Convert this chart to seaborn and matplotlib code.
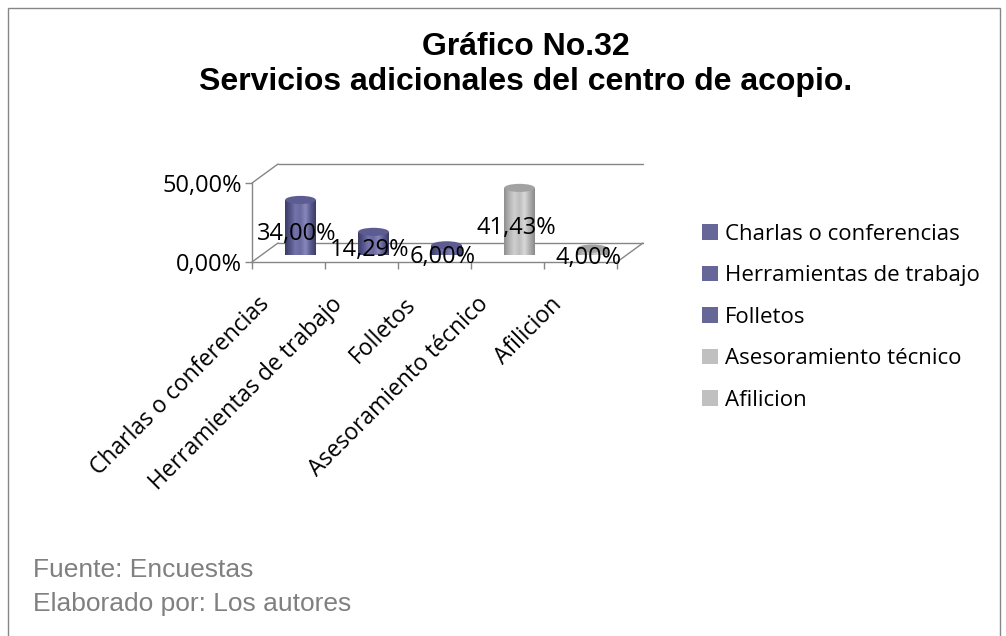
import numpy as np
import pandas as pd
import matplotlib
matplotlib.use("Agg")
import matplotlib.pyplot as plt
import seaborn as sns
from matplotlib.patches import Ellipse, Patch, Rectangle
from matplotlib.lines import Line2D
from matplotlib.colors import LinearSegmentedColormap
import matplotlib.transforms as mtransforms

# Data
categories = ["Charlas o conferencias", "Herramientas de trabajo", "Folletos",
              "Asesoramiento técnico", "Afilicion"]
values = [34.00, 14.29, 6.00, 41.43, 4.00]
value_labels = ["34,00%", "14,29%", "6,00%", "41,43%", "4,00%"]
series_colors = ["#666699", "#666699", "#666699", "#c0c0c0", "#c0c0c0"]
y_ticks = [0, 50]
y_ticklabels = ["0,00%", "50,00%"]

sns.set_theme(style="white")
plt.rcParams["font.family"] = ["Open Sans", "DejaVu Sans"]
plt.rcParams["text.color"] = "black"
plt.rcParams["xtick.labelcolor"] = "black"
plt.rcParams["ytick.labelcolor"] = "black"

W, H = 1006, 636
fig = plt.figure(figsize=(W / 100, H / 100), dpi=100)


def px(x0, y0, x1, y1):
    return [x0 / W, 1 - y1 / H, (x1 - x0) / W, (y1 - y0) / H]


grid_col = "#868686"

# Outer chart border
fig.add_artist(Rectangle((8 / W, -0.01), (1000 - 8) / W, 1 - 8 / H + 0.01,
                         transform=fig.transFigure, fill=False,
                         edgecolor=grid_col, linewidth=1.0))

# Titles
fig.text(526 / W, 1 - 55 / H, "Gráfico No.32", ha="center", va="baseline",
         fontsize=23, fontweight="bold", family="Liberation Sans",
         color="black")
fig.text(526 / W, 1 - 90 / H, "Servicios adicionales del centro de acopio.",
         ha="center", va="baseline", fontsize=23, fontweight="bold",
         family="Liberation Sans", color="black")

# Footer
fig.text(33 / W, 1 - 577 / H, "Fuente: Encuestas", ha="left", va="baseline",
         fontsize=19, color="#808080", family="Liberation Sans")
fig.text(33 / W, 1 - 611 / H, "Elaborado por: Los autores", ha="left",
         va="baseline", fontsize=19, color="#808080", family="Liberation Sans")

# Front plane axes (axis, ticks and category labels)
ax = fig.add_axes(px(252, 183, 617, 262))
ax.set_xlim(-0.5, len(categories) - 0.5)
ax.set_ylim(0, 50)
ax.patch.set_alpha(0)
for s in ["top", "right"]:
    ax.spines[s].set_visible(False)
for s in ["left", "bottom"]:
    ax.spines[s].set_color(grid_col)
    ax.spines[s].set_linewidth(1.0)
ax.set_yticks(y_ticks)
ax.set_yticklabels(y_ticklabels, fontsize=17)
ax.tick_params(axis="y", length=5, color=grid_col, width=1, pad=2, left=True)
ax.set_xticks(range(len(categories)))
ax.set_xticklabels(categories, rotation=45, ha="right", rotation_mode="anchor",
                   fontsize=16.5)
ax.tick_params(axis="x", length=0, pad=14)
ax.set_xticks(np.arange(-0.5, len(categories), 1.0), minor=True)
ax.tick_params(axis="x", which="minor", length=5, color=grid_col, width=1,
               bottom=True)
shift = mtransforms.ScaledTranslation(-31 / 100, -11 / 100, fig.dpi_scale_trans)
for lab in ax.get_xticklabels():
    lab.set_transform(lab.get_transform() + shift)

# Depth outline of the 3-D box (floor and back wall edges)
dxf, dyf = 26 / 365, 19 / 79
box_lines = [
    ([0, dxf], [1, 1 + dyf]),
    ([dxf, 1 + dxf], [1 + dyf, 1 + dyf]),
    ([0, dxf], [0, dyf]),
    ([dxf, 1 + dxf], [dyf, dyf]),
    ([1, 1 + dxf], [0, dyf]),
]
for xs, ys in box_lines:
    ax.add_line(Line2D(xs, ys, transform=ax.transAxes, color=grid_col,
                       linewidth=1.0, clip_on=False, zorder=1))

# Cylinders sit on the middle depth plane
axb = fig.add_axes(px(264, 174, 629, 255))
df = pd.DataFrame({"categoria": categories, "valor": values})
sns.barplot(data=df, x="categoria", y="valor", hue="categoria",
            palette=series_colors, width=0.42, legend=False, ax=axb,
            linewidth=0, saturation=1)
axb.set_xlim(-0.5, len(categories) - 0.5)
axb.set_ylim(0, 50)
axb.axis("off")
axb.patch.set_alpha(0)

blue_cmap = LinearSegmentedColormap.from_list(
    "cyl_blue", ["#3c3c66", "#55558a", "#7474aa", "#6a6aa0", "#8888bb",
                 "#5a5a8e", "#3c3c66"])
gray_cmap = LinearSegmentedColormap.from_list(
    "cyl_gray", ["#8e8e8e", "#b4b4b4", "#cfcfcf", "#bdbdbd", "#d8d8d8",
                 "#b0b0b0", "#8a8a8a"])
grad = np.linspace(0, 1, 64).reshape(1, -1)

cap_h = 5.0
for patch, col, val, lab in zip(axb.patches, series_colors, values,
                                value_labels):
    x0 = patch.get_x()
    w = patch.get_width()
    cx = x0 + w / 2
    is_blue = col == "#666699"
    cmap = blue_cmap if is_blue else gray_cmap
    body_edge = "#3c3c66" if is_blue else "#8a8a8a"
    top_col = "#5c5c92" if is_blue else "#a2a2a2"
    # rounded base
    axb.add_patch(Ellipse((cx, 0), w, cap_h, facecolor=body_edge,
                          edgecolor="none", zorder=2))
    patch.set_facecolor("none")
    im = axb.imshow(grad, cmap=cmap, extent=[x0, x0 + w, 0, val],
                    aspect="auto", zorder=3, interpolation="bilinear")
    im.set_clip_path(patch)
    # top cap
    axb.add_patch(Ellipse((cx, val), w, cap_h, facecolor=top_col,
                          edgecolor="none", zorder=4))
    axb.text(cx - 0.05, val / 2 - 4.0, lab, ha="center", va="center",
             fontsize=17, color="black", zorder=6)

axb.set_xlim(-0.5, len(categories) - 0.5)
axb.set_ylim(0, 50)

# Legend
handles = [Patch(facecolor=c, edgecolor="none") for c in series_colors]
fig.legend(handles, categories, loc="upper left",
           bbox_to_anchor=(693 / W, 1 - 215 / H), frameon=False,
           fontsize=16, handlelength=0.72, handleheight=0.72,
           handletextpad=0.3, labelspacing=0.92, borderaxespad=0)

fig.savefig("out.png", dpi=100)
